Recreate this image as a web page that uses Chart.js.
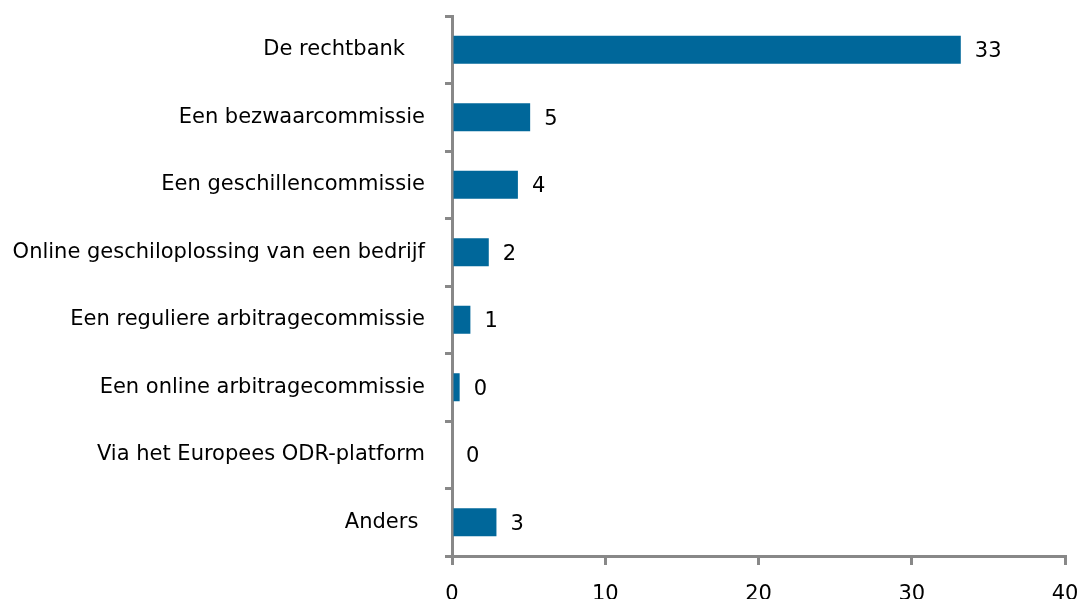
<!DOCTYPE html>
<html>
<head>
<meta charset="utf-8">
<script src="https://cdn.jsdelivr.net/npm/chart.js@4/dist/chart.umd.min.js"></script>
<style>
  html, body { margin: 0; padding: 0; background: #fff; }
  #wrap { width: 1079px; height: 599px; }
</style>
</head>
<body>
<div id="wrap"><canvas id="chart"></canvas></div>
<script>
const categories = [
    "De rechtbank   ",
    "Een bezwaarcommissie",
    "Een geschillencommissie",
    "Online geschiloplossing van een bedrijf",
    "Een reguliere arbitragecommissie",
    "Een online arbitragecommissie",
    "Via het Europees ODR-platform",
    "Anders ",
];
const values = [33.2, 5.1, 4.3, 2.4, 1.2, 0.5, 0, 2.9];
const valueLabels = ["33", "5", "4", "2", "1", "0", "0", "3"];
const xTicks = [0, 10, 20, 30, 40];

const axisGrey = "#888888";
const fontFamily = "'DejaVu Sans', Verdana, sans-serif";
const fontSize = 21;

// draws the number to the right of each bar
const barLabels = {
    id: "barLabels",
    afterDatasetsDraw(chart) {
        const ctx = chart.ctx;
        const meta = chart.getDatasetMeta(0);
        ctx.save();
        ctx.font = fontSize + "px " + fontFamily;
        ctx.fillStyle = "#000";
        ctx.textAlign = "left";
        ctx.textBaseline = "middle";
        meta.data.forEach(function (bar, i) {
            ctx.fillText(valueLabels[i], bar.x + 14, bar.y + 2);
        });
        ctx.restore();
    }
};

function noPadding(scale) {
    scale.paddingTop = 0;
    scale.paddingBottom = 0;
    scale.paddingLeft = 0;
    scale.paddingRight = 0;
}

const ctx = document.getElementById("chart").getContext("2d");
new Chart(ctx, {
    type: "bar",
    data: {
        labels: categories,
        datasets: [{
            data: values,
            backgroundColor: "#00679a",
            borderWidth: 0,
            barPercentage: 0.83,
            categoryPercentage: 0.5,
        }],
    },
    options: {
        indexAxis: "y",
        responsive: true,
        maintainAspectRatio: false,
        animation: false,
        layout: { padding: { top: 16, right: 14, left: 0, bottom: 0 } },
        plugins: {
            legend: { display: false },
            tooltip: { enabled: false },
        },
        scales: {
            x: {
                min: 0,
                max: 40,
                afterBuildTicks: function (scale) {
                    scale.ticks = xTicks.map(v => ({ value: v }));
                },
                afterFit: function (scale) {
                    scale.height = 43;
                    noPadding(scale);
                },
                border: { display: true, color: axisGrey, width: 3 },
                grid: {
                    drawOnChartArea: false,
                    drawTicks: true,
                    tickLength: 9,
                    color: axisGrey,
                    lineWidth: 3,
                },
                ticks: {
                    color: "#000",
                    padding: 19,
                    font: { family: fontFamily, size: fontSize, lineHeight: 1 },
                    maxRotation: 0,
                },
            },
            y: {
                afterFit: function (scale) {
                    scale.width = 452;
                    noPadding(scale);
                },
                border: { display: true, color: axisGrey, width: 3 },
                grid: {
                    offset: true,
                    drawOnChartArea: false,
                    drawTicks: true,
                    tickLength: 7,
                    color: axisGrey,
                    lineWidth: 3,
                },
                ticks: {
                    color: "#000",
                    padding: 20,
                    font: { family: fontFamily, size: fontSize },
                    autoSkip: false,
                },
            },
        },
    },
    plugins: [barLabels],
});
</script>
</body>
</html>
